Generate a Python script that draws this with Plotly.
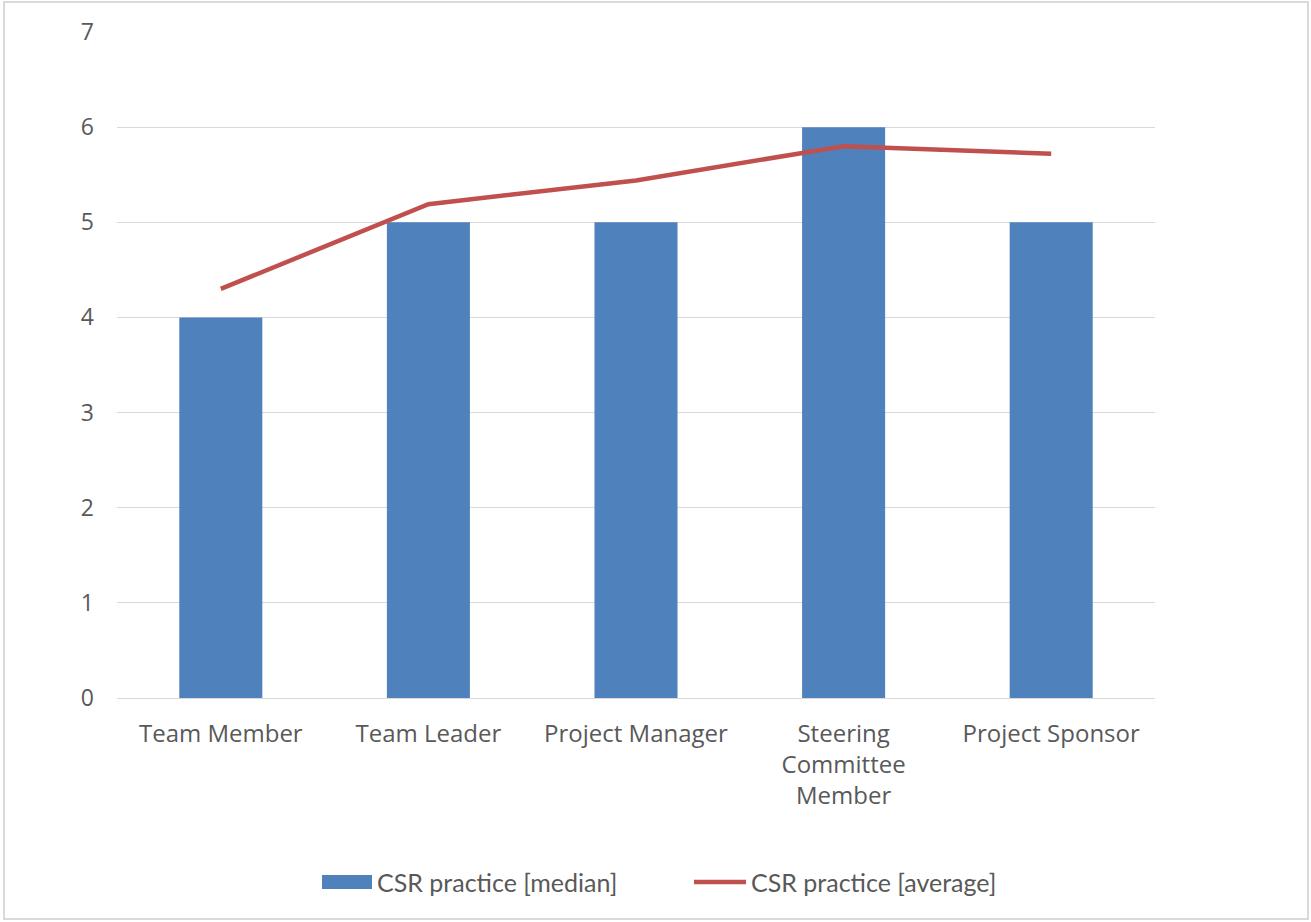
import plotly.graph_objects as go

categories = ["Team Member", "Team Leader", "Project Manager",
              "Steering<br>Committee<br>Member", "Project Sponsor"]
median_values = [4, 5, 5, 6, 5]
average_values = [4.30, 5.19, 5.44, 5.80, 5.72]
y_ticks = [0, 1, 2, 3, 4, 5, 6, 7]
series_names = ["CSR practice [median]", "CSR practice [average]"]

BAR_COLOR = "#4F81BD"
LINE_COLOR = "#C0504D"
TEXT_COLOR = "#595959"
GRID_COLOR = "#D9D9D9"

fig = go.Figure()
fig.add_trace(go.Bar(
    x=categories, y=median_values, name=series_names[0],
    marker=dict(color=BAR_COLOR, line=dict(width=0)), showlegend=False,
))
fig.add_trace(go.Scatter(
    x=categories, y=average_values, name=series_names[1],
    mode="lines", line=dict(color=LINE_COLOR, width=4.5), showlegend=False,
))

L, R, T, B = 117, 1155, 32, 698
W, H = 1311, 922
pw, ph = R - L, B - T


def px_x(x):
    return (x - L) / pw


def px_y(y):
    return (B - y) / ph


# Legend drawn below the plot: swatch + label for each series
legend_y = 882
legend_font = dict(family="Lato", size=25, color=TEXT_COLOR)
shapes = [
    dict(type="rect", xref="paper", yref="paper",
         x0=px_x(322), x1=px_x(372), y0=px_y(889), y1=px_y(875),
         fillcolor=BAR_COLOR, line=dict(width=0)),
    dict(type="line", xref="paper", yref="paper",
         x0=px_x(694), x1=px_x(746), y0=px_y(legend_y), y1=px_y(legend_y),
         line=dict(color=LINE_COLOR, width=4.5)),
    dict(type="rect", xref="paper", yref="paper",
         x0=px_x(4), x1=px_x(1308), y0=px_y(919), y1=px_y(2),
         line=dict(color=GRID_COLOR, width=2), fillcolor="rgba(0,0,0,0)",
         layer="below"),
]
annotations = [
    dict(text=series_names[0], xref="paper", yref="paper",
         x=px_x(375), y=px_y(legend_y), xanchor="left", yanchor="middle",
         showarrow=False, font=legend_font),
    dict(text=series_names[1], xref="paper", yref="paper",
         x=px_x(749), y=px_y(legend_y), xanchor="left", yanchor="middle",
         showarrow=False, font=legend_font),
]

fig.update_layout(
    width=W, height=H,
    margin=dict(l=L, r=W - R, t=T, b=H - B),
    paper_bgcolor="white", plot_bgcolor="white",
    bargap=0.6,
    font=dict(family="Open Sans", size=24, color=TEXT_COLOR),
    showlegend=False,
    xaxis=dict(
        showgrid=False, showline=True, linecolor=GRID_COLOR, linewidth=1,
        ticks="", ticklabelstandoff=14, fixedrange=True,
    ),
    yaxis=dict(
        range=[0, 7], tickvals=y_ticks, showgrid=True, gridcolor=GRID_COLOR,
        gridwidth=1, zeroline=False, showline=False, ticks="",
        ticklabelstandoff=22, fixedrange=True,
        tickfont=dict(size=23),
    ),
    shapes=shapes,
    annotations=annotations,
)

fig.write_html("out.html")
